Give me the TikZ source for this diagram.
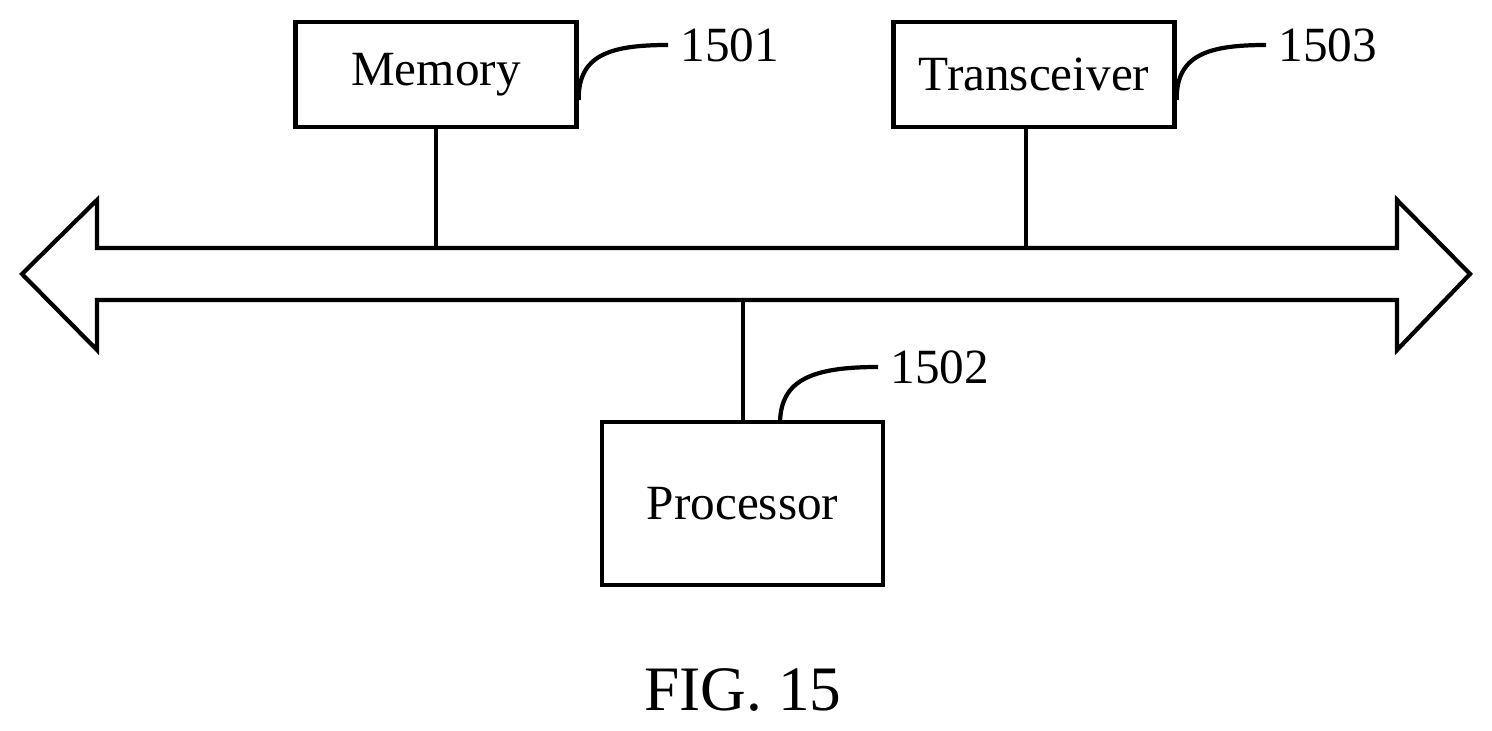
\documentclass[tikz,border=0pt]{standalone}
\usepackage{fontspec}
\setmainfont{Liberation Serif}
\usetikzlibrary{positioning}
\tikzset{
  block/.style={draw, line width=1.2pt, minimum width=2.81cm, inner sep=0pt, font=\fontsize{14}{16}\selectfont},
  lead/.style={line width=1.2pt},
  ref/.style={font=\fontsize{14}{16}\selectfont, anchor=west}
}
\begin{document}
\begin{tikzpicture}[x=0.01cm,y=-0.01cm]
\useasboundingbox (0,0) rectangle (1492,731);
% blocks
\node[block, minimum height=1.05cm] (mem) at (436,74.5) {Memory};
\node[block, minimum height=1.05cm] (trx) at (1034,74.5) {Transceiver};
\node[block, minimum height=1.63cm] (proc) at (742.5,503.5) {Processor};
% bus
\draw[lead] (97,248) -- (97,200) -- (22,274) -- (97,350) -- (97,300)
  -- (1397,300) -- (1397,350) -- (1470,274) -- (1397,200) -- (1397,248) -- cycle;
\coordinate (busM) at (436,248);
\coordinate (busT) at (1026,248);
\coordinate (busP) at (743,300);
\draw[lead] (mem.south) -- (busM);
\draw[lead] (trx.south -| busT) -- (busT);
\draw[lead] (busP) -- (proc.north -| busP);
% reference numbers
\node[ref] (r1501) at (668,45) {1501};
\node[ref] (r1503) at (1266,45) {1503};
\node[ref] (r1502) at (878,367) {1502};
\draw[lead] (mem.east |- 0,100) .. controls (578,55) and (610,45) .. (r1501.west);
\draw[lead] (trx.east |- 0,100) .. controls (1176,55) and (1208,45) .. (r1503.west);
\draw[lead] (780,422) .. controls (781,380) and (812,367) .. (r1502.west);
% caption
\node[font=\fontsize{18}{20}\selectfont] (fig) at (743,690) {FIG. 15};
\end{tikzpicture}
\end{document}
